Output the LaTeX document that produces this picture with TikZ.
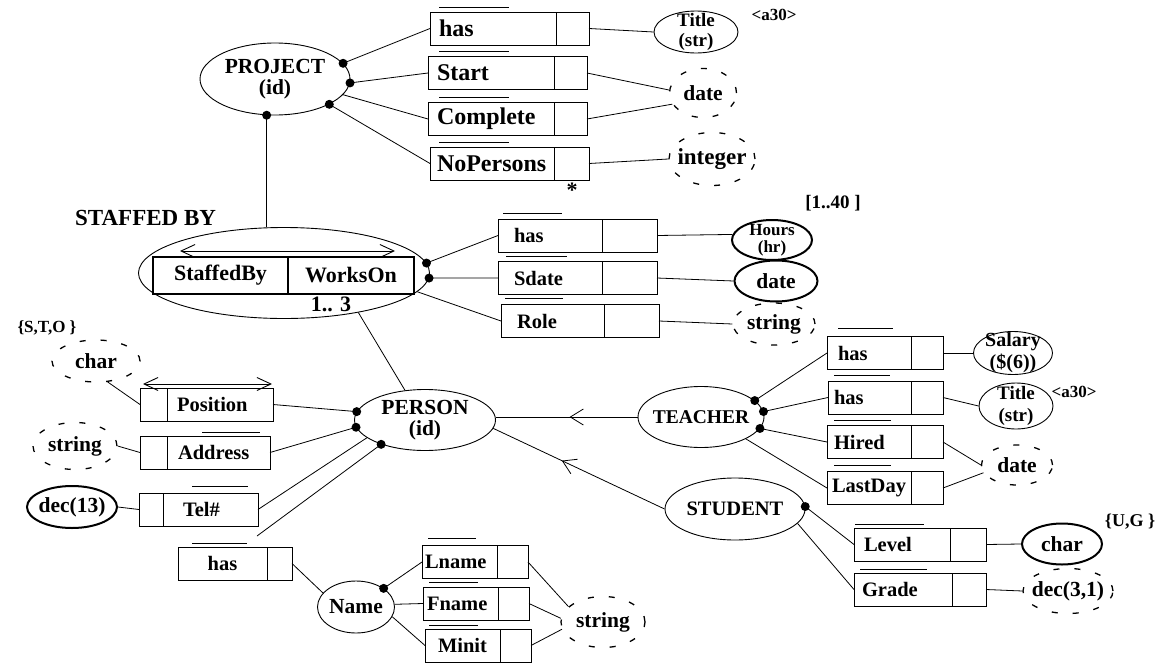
\documentclass[tikz,border=0pt]{standalone}
\usepackage{fontspec}
\setmainfont{Liberation Serif}
\usetikzlibrary{arrows.meta,positioning,shapes.geometric,decorations.markings}

\begin{document}
\begin{tikzpicture}[x=1pt,y=-1pt,
  font=\fontsize{20.5}{21}\selectfont\bfseries,
  every label/.style={align=center,inner sep=0pt,font=\fontsize{21.5}{21}\selectfont\bfseries},
  ent/.style={ellipse,draw,line width=0.9pt,inner sep=0pt},
  thk/.style={ellipse,draw,line width=2pt,inner sep=0pt},
  dsh/.style={ellipse,draw,line width=1.3pt,dash pattern=on 6pt off 15pt,inner sep=0pt},
  fld/.style={draw,line width=0.9pt,minimum height=33pt,inner xsep=9pt,inner ysep=0pt,
              outer sep=0pt,text width=#1,align=left},
  cell/.style={draw,line width=0.9pt,minimum height=33pt,minimum width=#1,inner sep=0pt,outer sep=0pt},
  rel/.style={draw,line width=1.4pt,minimum height=37pt,inner sep=0pt,outer sep=0pt,
              font=\fontsize{22}{22}\selectfont\bfseries},
  pf/.style={font=\fontsize{24}{24}\selectfont\bfseries},
  dot/.style={circle,fill,inner sep=0pt,minimum size=9pt},
  lnk/.style={line width=0.8pt},
  ann/.style={inner sep=0pt,font=\fontsize{17}{17}\selectfont\bfseries},
  dbl/.style={{Straight Barb[length=14pt,width=13pt]}-{Straight Barb[length=14pt,width=13pt]},line width=0.9pt},
  isa/.style={lnk,postaction={decorate},decoration={markings,
              mark=at position #1 with {\arrow{Straight Barb[length=13pt,width=16pt]}}}}]
  \useasboundingbox (0,0) rectangle (1173,664);

  \node[ent,minimum width=150pt,minimum height=72pt,label={center:PROJECT\\(id)}] (proj) at (275,79) {};
  \node[ent,minimum width=291pt,minimum height=91pt] (staff) at (284,273) {};
  \node[ent,minimum width=141pt,minimum height=61pt,label={center:PERSON\\(id)}] (person) at (425,420) {};
  \node[ent,minimum width=126pt,minimum height=61pt,
        label={[font=\fontsize{19.5}{19}\selectfont\bfseries]center:TEACHER}] (teacher) at (701,417) {};
  \node[ent,minimum width=140pt,minimum height=62pt,
        label={[font=\fontsize{20.5}{20}\selectfont\bfseries]center:STUDENT}] (student) at (735,509) {};
  \node[ent,minimum width=77pt,minimum height=52pt,label={center:Name}] (name) at (356,607) {};

  \node[ent,minimum width=84pt,minimum height=42pt,
        label={[font=\fontsize{19}{20}\selectfont\bfseries]center:Title\\(str)}] (ptitle) at (696,32) {};
  \node[dsh,minimum width=67pt,minimum height=49pt,label={center:date}] (pdate) at (703,93) {};
  \node[dsh,minimum width=86pt,minimum height=53pt,
        label={[font=\fontsize{23}{23}\selectfont\bfseries]center:integer}] (pint) at (712,159) {};
  \node[thk,minimum width=80pt,minimum height=40pt,
        label={[font=\fontsize{17}{17}\selectfont\bfseries]center:Hours\\(hr)}] (hours) at (772,240) {};
  \node[thk,minimum width=83pt,minimum height=41pt,label={center:date}] (sdate) at (776,281) {};
  \node[dsh,minimum width=82pt,minimum height=42pt,label={center:string}] (sstr) at (774,324) {};
  \node[dsh,minimum width=88pt,minimum height=42pt,label={center:char}] (pchar) at (96,361) {};
  \node[dsh,minimum width=84pt,minimum height=47pt,label={center:string}] (pstr) at (75,446) {};
  \node[thk,minimum width=90pt,minimum height=42pt,label={center:dec(13)}] (pdec) at (72,507) {};
  \node[ent,minimum width=79pt,minimum height=43pt,
        label={[font=\fontsize{20}{22}\selectfont\bfseries]center:Salary\\(\$(6))}] (salary) at (1013,353) {};
  \node[ent,minimum width=74pt,minimum height=46pt,
        label={[font=\fontsize{19}{22}\selectfont\bfseries]center:Title\\(str)}] (ttitle) at (1016,406) {};
  \node[dsh,minimum width=71pt,minimum height=40pt,label={center:date}] (tdate) at (1017,465) {};
  \node[thk,minimum width=80pt,minimum height=41pt,label={center:char}] (schar) at (1062,544) {};
  \node[dsh,minimum width=90pt,minimum height=45pt,label={center:dec(3,1)}] (sdec) at (1068,591) {};
  \node[dsh,minimum width=84pt,minimum height=51pt,label={center:string}] (nstr) at (603,622) {};

  \node[fld=108pt,pf,anchor=west] (phas) at (430,28.5) {has};
  \node[cell=33pt,right=0pt of phas] (phasc) {};
  \node[fld=108pt,pf,anchor=west] (pstart) at (428,73) {Start};
  \node[cell=33pt,right=0pt of pstart] (pstartc) {};
  \node[fld=108pt,pf,anchor=west] (pcompl) at (428,119) {Complete};
  \node[cell=33pt,right=0pt of pcompl] (pcomplc) {};
  \node[fld=110pt,inner xsep=7pt,pf,anchor=west] (pnop) at (430,163.5) {NoPersons};
  \node[cell=35pt,right=0pt of pnop] (pnopc) {};

  \node[rel,minimum width=135pt,anchor=west] (sby) at (153,275.5) {StaffedBy};
  \node[rel,minimum width=126pt,right=0pt of sby] (won) {WorksOn};

  \node[fld=72pt,inner xsep=16pt,anchor=west] (shas) at (498,235.5) {has};
  \node[cell=55pt,right=0pt of shas] (shasc) {};
  \node[fld=72pt,inner xsep=16pt,anchor=west] (ssd) at (498,278) {Sdate};
  \node[cell=55pt,right=0pt of ssd] (ssdc) {};
  \node[fld=71pt,inner xsep=16pt,anchor=west] (srole) at (501,321) {Role};
  \node[cell=55pt,right=0pt of srole] (srolec) {};

  \node[cell=27pt,anchor=west] (posc) at (140,404.5) {};
  \node[fld=86pt,inner xsep=10pt,right=0pt of posc] (pos) {Position};
  \node[cell=27pt,anchor=west] (addrc) at (140,452.5) {};
  \node[fld=81pt,inner xsep=11pt,right=0pt of addrc] (addr) {Address};
  \node[cell=24pt,anchor=west] (telc) at (139,509.5) {};
  \node[fld=55pt,inner xsep=20pt,right=0pt of telc] (tel) {Tel\#};
  \node[fld=71pt,align=center,anchor=west] (nhas) at (178,563.5) {has};
  \node[cell=25pt,right=0pt of nhas] (nhasc) {};

  \node[fld=69pt,inner xsep=3pt,anchor=west] (lname) at (422,562) {Lname};
  \node[cell=31pt,right=0pt of lname] (lnamec) {};
  \node[fld=67pt,inner xsep=4pt,anchor=west] (fname) at (423,603.5) {Fname};
  \node[cell=31pt,right=0pt of fname] (fnamec) {};
  \node[fld=57pt,align=center,anchor=west] (minit) at (425,645.5) {Minit};
  \node[cell=31pt,right=0pt of minit] (minitc) {};

  \node[fld=62pt,inner xsep=11pt,anchor=west] (thas) at (827,353) {has};
  \node[cell=32pt,right=0pt of thas] (thasc) {};
  \node[fld=71pt,inner xsep=6pt,anchor=west] (thas2) at (828,397.5) {has};
  \node[cell=32pt,right=0pt of thas2] (thas2c) {};
  \node[fld=70pt,inner xsep=7pt,anchor=west] (hired) at (827,442) {Hired};
  \node[cell=32pt,right=0pt of hired] (hiredc) {};
  \node[fld=74pt,inner xsep=5pt,anchor=west] (lday) at (827,488) {LastDay};
  \node[cell=32pt,right=0pt of lday] (ldayc) {};
  \node[fld=76pt,inner xsep=10pt,anchor=west] (level) at (854,544.5) {Level};
  \node[cell=36pt,right=0pt of level] (levelc) {};
  \node[fld=82pt,inner xsep=8pt,anchor=west] (grade) at (854,589.5) {Grade};
  \node[cell=34pt,right=0pt of grade] (gradec) {};

  \node[dot] (pj1) at (proj.13) {};
  \node[dot] (pj2) at (proj.-3) {};
  \node[dot] (pj4) at (proj.-25) {};
  \node[dot] (pj5) at (proj.257) {};
  \node[dot] (sf1) at (staff.4) {};
  \node[dot] (sf2) at (staff.-2) {};
  \node[dot] (pr1) at (person.173) {};
  \node[dot] (pr2) at (person.186) {};
  \node[dot] (pr4) at (person.209) {};
  \node[dot] (tc1) at (teacher.17) {};
  \node[dot] (tc2) at (teacher.5) {};
  \node[dot] (tc3) at (teacher.-11) {};
  \node[dot] (st1) at (student.2) {};
  \node[dot] (nm1) at (name.34) {};

  \foreach \a/\b in {pj1.center/phas.west,pj2.center/pstart.west,proj.-13/pcompl.west,
                     pj4.center/pnop.west,phasc.east/ptitle.west,pstartc.east/pdate.175,
                     pcomplc.east/pdate.200,pnopc.east/pint.west,
                     sf1.center/shas.west,sf2.center/ssd.west,staff.-8/srole.west,
                     shasc.east/hours.172,ssdc.east/sdate.west,srolec.east/sstr.west,
                     staff.-28/person.124,pos.east/pr1.center,addr.east/pr2.center,tel.east/person.197,
                     pchar.-61/posc.west,pstr.east/addrc.west,pdec.east/telc.west,
                     nhasc.east/name.157,nm1.center/lname.west,name.4/fname.west,name.-15/minit.west,
                     lnamec.east/nstr.156,fnamec.east/nstr.175,minitc.east/nstr.190,
                     tc1.center/thas.west,tc2.center/thas2.west,tc3.center/hired.west,teacher.-26/lday.west,
                     thasc.east/salary.west,thas2c.east/ttitle.west,hiredc.east/tdate.west,ldayc.east/tdate.193,
                     st1.center/level.west,student.-13/grade.west,levelc.east/schar.west,gradec.east/sdec.west}
     \draw[lnk] (\a) -- (\b);
  \draw[lnk] (pj5.center) -- (pj5 |- staff.north);
  \draw[lnk] ([shift={(-10pt,11pt)}]nhas.north east) -- (pr4.center);

  \draw[isa=0.48] (teacher.west) -- (teacher.west -| person.east);
  \draw[isa=0.6] (student.west) -- (person.-7);

  \draw[dbl] ([shift={(27pt,6pt)}]sby.north west) -- ([shift={(-19pt,6pt)}]won.north east);
  \draw[dbl] ([shift={(3pt,4pt)}]posc.north west) -- ([shift={(-1pt,4pt)}]pos.north east);

  \foreach \b/\dx/\dy/\len in {phas/9/5/70,pstart/11/5/70,pcompl/11/5/70,pnop/9/5/70,
                               shas/5/6/59,ssd/8/5/61,srole/4/6/58,addr/35/4/58,tel/29/7/56,
                               nhas/14/4/55,lname/6/7/48,fname/6/5/49,minit/4/4/49,
                               thas/11/8/55,thas2/6/6/56,hired/7/5/57,lday/7/6/57,
                               level/1/4/69,grade/6/4/67}
     \draw[lnk] ([shift={(\dx pt,\dy pt)}]\b.north west) -- ++(\len pt,0pt);

  \node[ann] (pa30) at (774,15) {<a30>};
  \node[ann,font=\fontsize{22}{22}\selectfont\bfseries] (pstar) at (572,190) {*};
  \node[ann,font=\fontsize{19}{19}\selectfont\bfseries] (hrange) at (833,203) {[1..40 ]};
  \node[ann,font=\fontsize{23}{23}\selectfont\bfseries,anchor=west] (sblab) at (75,218) {STAFFED BY};
  \node[ann,font=\fontsize{22}{22}\selectfont\bfseries] (card) at (331,304) {1.. 3};
  \node[ann] (posset) at (47,328) {\{S,T,O \}};
  \node[ann] (ta30) at (1074,392) {<a30>};
  \node[ann,font=\fontsize{18}{18}\selectfont\bfseries] (lvset) at (1130,522) {\{U,G \}};
\end{tikzpicture}
\end{document}
